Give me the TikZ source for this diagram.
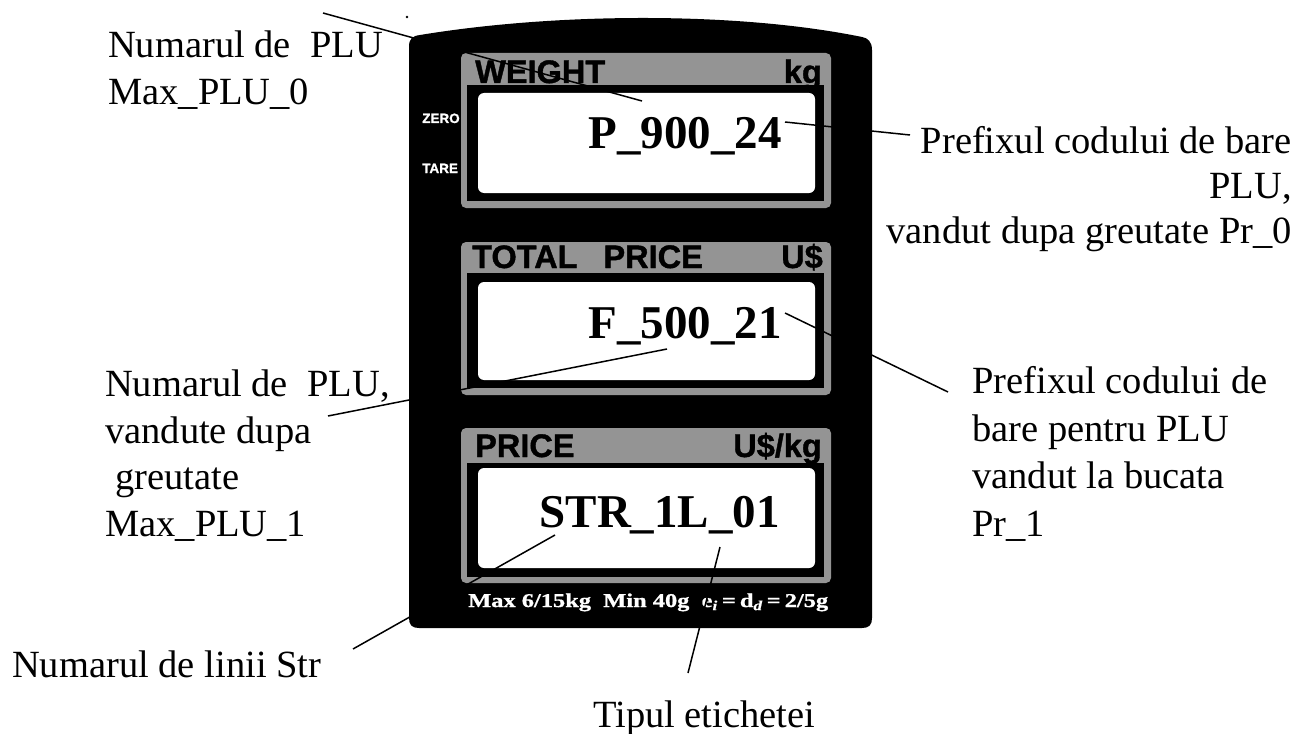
\documentclass[tikz,border=0pt]{standalone}
\usepackage{fontspec}
\setmainfont{Liberation Serif}
\newfontfamily\lsans{Liberation Sans}[FakeBold=1.2]
\newfontfamily\fserif{Liberation Serif}[FakeBold=0.8]
\usepackage{graphicx}
\begin{document}
\begin{tikzpicture}[x=1pt,y=-1pt,
  lbl/.style={font=\fontsize{38.5}{47}\selectfont, inner sep=0pt},
  disp/.style={font=\bfseries\fontsize{47}{50}\selectfont, inner sep=0pt, anchor=base east},
  hdr/.style={font=\lsans\bfseries\fontsize{32.5}{34}\selectfont, inner sep=0pt},
  side/.style={font=\lsans\bfseries\fontsize{13.5}{14}\selectfont, text=white, inner sep=0pt, anchor=base west},
  leader/.style={line width=1.5pt},
  hatch/.style={fill=black!42},
]
\useasboundingbox (0,0) rectangle (1300,733);
\fill[white] (0,0) rectangle (1300,733);

% body of the scale display
\fill[black] (409,618) -- (409,47) .. controls (409,39) and (412,36) .. (420,35)
  .. controls (560,12) and (740,12) .. (862,37)
  .. controls (868,38) and (872,42) .. (872,50) -- (872,618)
  .. controls (872,625) and (869,628) .. (862,628) -- (419,628)
  .. controls (412,628) and (409,625) .. (409,618) -- cycle;

% panel 1
\fill[hatch, rounded corners=5pt] (461,53) rectangle (831,208);
\fill[black] (467,85) rectangle (824,201);
\fill[white, rounded corners=6pt] (478,93) rectangle (815,193);
% panel 2
\fill[hatch, rounded corners=5pt] (461,242) rectangle (831,395);
\fill[black] (467,273) rectangle (824,388);
\fill[white, rounded corners=6pt] (478,282) rectangle (815,380);
% panel 3
\fill[hatch, rounded corners=5pt] (461,428) rectangle (831,583);
\fill[black] (467,463) rectangle (824,577);
\fill[white, rounded corners=6pt] (478,468) rectangle (815,568);

% headers
\node[hdr, anchor=base west] (hw) at (475,83) {WEIGHT};
\node[hdr, anchor=base east] (hkg) at (822,83) {kg};
\node[hdr, anchor=base west] (htp) at (472,268) {TOTAL\hspace{26pt}PRICE};
\node[hdr, anchor=base east] (hus) at (823,268) {U\$};
\node[hdr, anchor=base west] (hp) at (475,457) {PRICE};
\node[hdr, anchor=base east] (husk) at (822,457) {U\$/kg};

% side keys
\node[side] (zero) at (422,123) {ZERO};
\node[side] (tare) at (422,173) {TARE};

% displays
\node[disp] (d1) at (782,148) {P\_900\_24};
\node[disp] (d2) at (782,338) {F\_500\_21};
\node[disp] (d3) at (780,527) {STR\_1L\_01};

% footer
\node[inner sep=0pt, anchor=base west, text=white, font=\fserif\bfseries\fontsize{19.5}{20}\selectfont] (foot) at (468,607)
  {\resizebox{360pt}{\height}{Max 6/15kg\ \ Min 40g\ \ e\textsubscript{\itshape i}\,=\,d\textsubscript{\itshape d}\,=\,2/5g}};

% stray dot
\fill (407,17) circle (1.3);

% labels
\node[lbl, anchor=north west, align=left] (l1) at (108,30.2) {Numarul de\ \ PLU\\Max\_PLU\_0};
\node[lbl, anchor=north west, align=left, font=\fontsize{38.5}{46.7}\selectfont] (l2) at (105,369.5)
  {Numarul de\ \ PLU,\\vandute dupa\\\hspace*{10pt}greutate\\Max\_PLU\_1};
\node[lbl, anchor=north east, align=right, font=\fontsize{38.5}{45}\selectfont] (r1) at (1292,126.2)
  {Prefixul codului de bare\\PLU,\\vandut dupa greutate Pr\_0};
\node[lbl, anchor=north west, align=left, font=\fontsize{38.5}{47.7}\selectfont] (r2) at (972,366.2)
  {Prefixul codului de\\bare pentru PLU\\vandut la bucata\\Pr\_1};
\node[lbl, anchor=base west] (l5) at (12,677) {Numarul de linii Str};
\node[lbl, anchor=base west] (l6) at (593,727) {Tipul etichetei};

% leader lines
\coordinate (a1) at (323,13);  \coordinate (b1) at (642,101);
\coordinate (a2) at (785,122); \coordinate (b2) at (910,135);
\coordinate (a3) at (785,313); \coordinate (b3) at (948,392);
\coordinate (a4) at (328,416); \coordinate (b4) at (667,349);
\coordinate (a5) at (353,649); \coordinate (b5) at (555,535);
\coordinate (a6) at (688,673); \coordinate (b6) at (720,547);
\draw[leader] (a1) -- (b1);
\draw[leader] (a2) -- (b2);
\draw[leader] (a3) -- (b3);
\draw[leader] (a4) -- (b4);
\draw[leader] (a5) -- (b5);
\draw[leader] (a6) -- (b6);
\end{tikzpicture}
\end{document}
